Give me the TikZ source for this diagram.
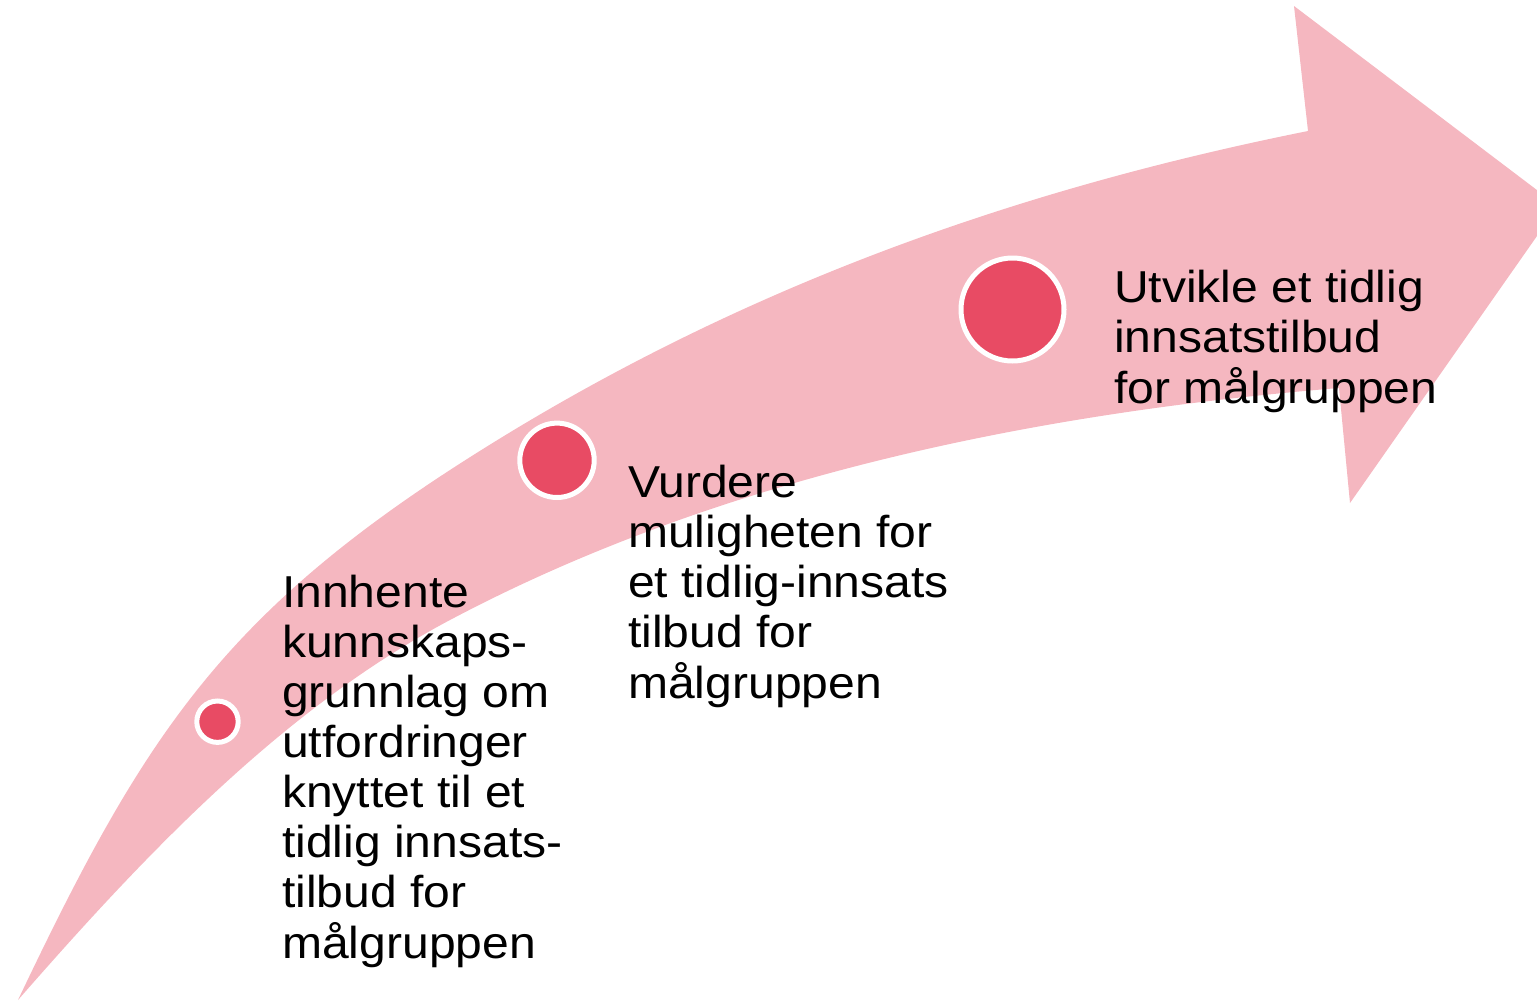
\documentclass[tikz,border=0pt]{standalone}
\usepackage{fontspec}
\setmainfont{Liberation Sans}[FakeStretch=1.075]
\definecolor{bandpink}{HTML}{F5B7C0}
\definecolor{dotred}{HTML}{E84B64}
\begin{document}
\begin{tikzpicture}[x=1pt,y=-1pt,
  dot/.style={circle, fill=dotred, draw=white, line width=5pt, inner sep=0pt},
  label/.style={anchor=base west, inner sep=0pt, font=\fontsize{44.7}{50}\selectfont}]
\useasboundingbox (0,0) rectangle (1537,1002);
\clip (0,0) rectangle (1537,1002);
% curved arrow
\fill[bandpink] (18,1000)
  .. controls (138,748) and (215,623) .. (450,470)
  .. controls (727,290) and (1014,190) .. (1308,131)
  -- (1294,6) -- (1558,206) -- (1350,503) -- (1339,388)
  .. controls (1034,413) and (720,477) .. (450,620)
  .. controls (282,709) and (143,857) .. (18,1000)
  -- cycle;
% dots
\node[dot, minimum size=41.4pt] (c1) at (217.5,721.7) {};
\node[dot, minimum size=74.4pt] (c2) at (557,460.3) {};
\node[dot, minimum size=103pt] (c3) at (1012.5,309.5) {};
% labels
\node[label] (t1) at (282,607) {\begin{tabular}[t]{@{}l@{}}Innhente\\kunnskaps-\\grunnlag om\\utfordringer\\knyttet til et\\tidlig innsats-\\tilbud for\\målgruppen\end{tabular}};
\node[label] (t2) at (628,497) {\begin{tabular}[t]{@{}l@{}}Vurdere\\muligheten for\\et tidlig-innsats\\tilbud for\\målgruppen\end{tabular}};
\node[label] (t3) at (1114,302) {\begin{tabular}[t]{@{}l@{}}Utvikle et tidlig\\innsatstilbud\\for målgruppen\end{tabular}};
\end{tikzpicture}
\end{document}
